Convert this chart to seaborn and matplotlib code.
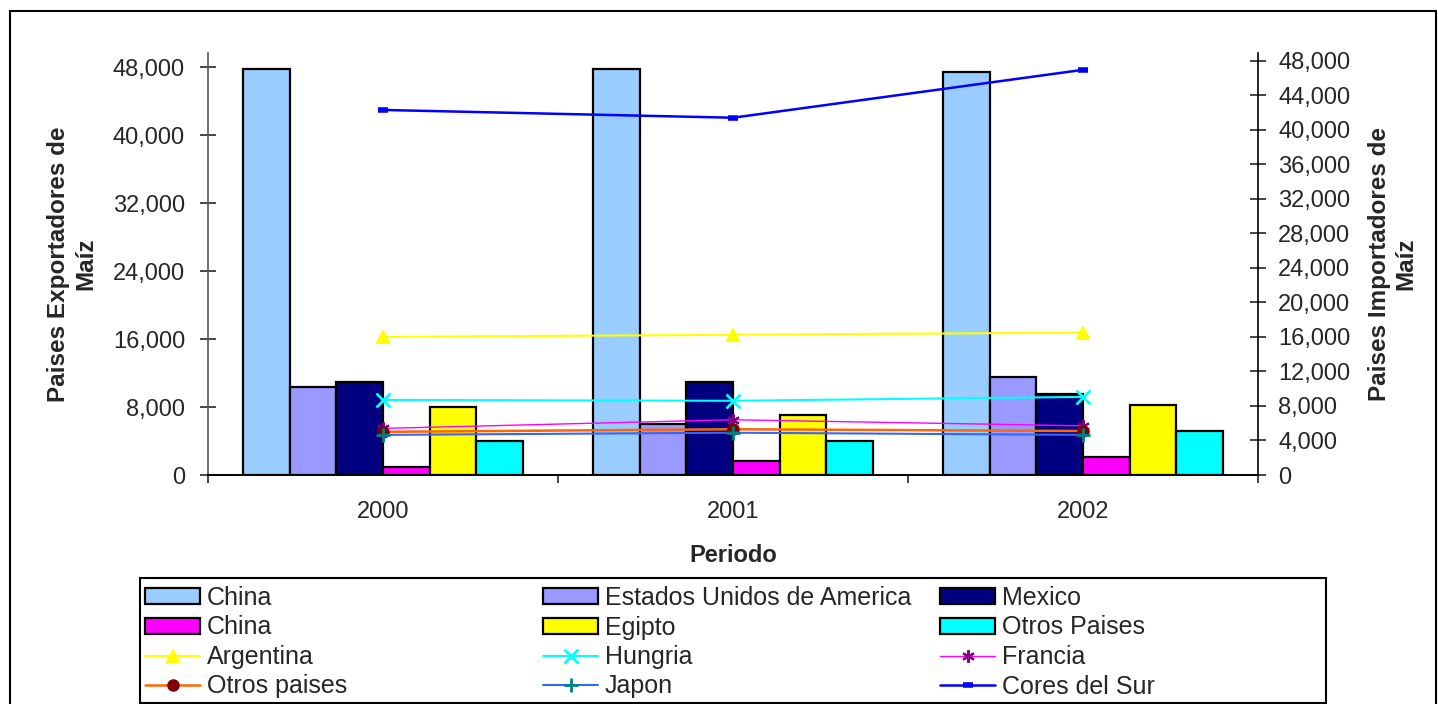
import matplotlib
matplotlib.use('Agg')
import matplotlib.pyplot as plt
import seaborn as sns
import pandas as pd
from matplotlib.ticker import FuncFormatter, FixedLocator, MultipleLocator
from matplotlib.patches import Rectangle

periodos = ['2000', '2001', '2002']

# barras, eje izquierdo (Paises Exportadores)
barras_nombres = ['China', 'Estados Unidos de America', 'Mexico', 'China', 'Egipto', 'Otros Paises']
barras_claves = ['china_a', 'eua', 'mexico', 'china_b', 'egipto', 'otros_a']
china_a = [47800, 47800, 47500]
eua = [10400, 6000, 11600]
mexico = [10900, 10900, 9500]
china_b = [950, 1650, 2100]
egipto = [8000, 7100, 8300]
otros_a = [4000, 4000, 5200]
barras_colores = ['#99CCFF', '#9999FF', '#000080', '#FF00FF', '#FFFF00', '#00FFFF']

# lineas, eje derecho (Paises Importadores)
lineas_nombres = ['Argentina', 'Hungria', 'Francia', 'Otros paises', 'Japon', 'Cores del Sur']
argentina = [16000, 16250, 16500]
hungria = [8700, 8600, 9050]
francia = [5400, 6400, 5700]
otros_b = [5000, 5300, 5100]
japon = [4650, 4900, 4650]
corea = [42300, 41400, 46950]


def tabla_barras():
    valores = [china_a, eua, mexico, china_b, egipto, otros_a]
    filas = []
    for clave, serie in zip(barras_claves, valores):
        for p, v in zip(periodos, serie):
            filas.append({'periodo': p, 'serie': clave, 'valor': v})
    return pd.DataFrame(filas)


sns.set_style('white')
plt.rcParams['font.family'] = ['Liberation Sans', 'DejaVu Sans']

fig = plt.figure(figsize=(14.38, 7.04), dpi=100)
ax = fig.add_axes([208 / 1438, 1 - 475 / 704, 1050 / 1438, 422 / 704])

df = tabla_barras()
sns.barplot(data=df, x='periodo', y='valor', hue='serie', hue_order=barras_claves,
            palette=dict(zip(barras_claves, barras_colores)), saturation=1,
            edgecolor='black', linewidth=1.6, errorbar=None, legend=False, ax=ax)

ax2 = ax.twinx()
estilos = [
    (argentina, '#FFFF00', '^', '#FFFF00', 9, 1.5, 1.5),
    (hungria, '#00FFFF', 'x', '#00FFFF', 10, 2, 1.5),
    (francia, '#FF00FF', (6, 2, 0), '#800080', 9, 1.5, 1.0),
    (otros_b, '#FF6600', 'o', '#800000', 8, 1, 1.8),
    (japon, '#3366FF', '+', '#008080', 10, 2, 1.5),
    (corea, '#0000FF', '_', '#0000FF', 7, 4, 1.8),
]
for nombre, (serie, col, mk, mcol, ms, mew, lw) in zip(lineas_nombres, estilos):
    sns.lineplot(x=periodos, y=serie, color=col, lw=lw, marker=mk, ms=ms,
                 markerfacecolor=mcol, markeredgecolor=mcol, mew=mew,
                 label=nombre, ax=ax2)
if ax2.get_legend() is not None:
    ax2.get_legend().remove()

# ejes
ax.set_xlim(-0.5, len(periodos) - 0.5)
ax.set_ylim(0, 49700)
ax2.set_ylim(0, 48900)
ax.yaxis.set_major_locator(MultipleLocator(8000))
ax2.yaxis.set_major_locator(MultipleLocator(4000))
fmt = FuncFormatter(lambda v, p: f'{v:,.0f}')
ax.yaxis.set_major_formatter(fmt)
ax2.yaxis.set_major_formatter(fmt)

ax.tick_params(axis='y', direction='inout', length=11, width=1.2, pad=11, labelsize=17, left=True)
ax2.tick_params(axis='y', direction='inout', length=11, width=1.2, pad=9, labelsize=17, right=True)
ax.tick_params(axis='x', which='major', length=0, pad=19, labelsize=17)
ax.xaxis.set_minor_locator(FixedLocator([-0.5, 0.5, 1.5, 2.5]))
ax.tick_params(axis='x', which='minor', direction='out', length=6, width=1.2, bottom=True)
ax2.tick_params(axis='x', which='both', length=0)

for a in (ax, ax2):
    a.spines['top'].set_visible(False)
    a.spines['left'].set_color('#555555')
    a.spines['bottom'].set_color('black')
    a.spines['right'].set_color('black')
    for s in a.spines.values():
        s.set_linewidth(1.2)
ax2.spines['left'].set_visible(False)
ax.spines['right'].set_visible(False)

ax.set_xlabel('Periodo', fontsize=17, fontweight='bold')
ax.xaxis.set_label_coords(0.5, -0.163)
ax.xaxis.label.set_va('top')
ax.set_ylabel('Paises Exportadores de\nMaíz', fontsize=17.5, fontweight='bold')
ax.yaxis.set_label_coords((97 - 208) / 1050, 0.5)
ax2.set_ylabel('Paises Importadores de\nMaíz', fontsize=17.5, fontweight='bold')
ax2.yaxis.set_label_coords((1368 - 208) / 1050, 0.5)

# leyenda en tres columnas
h_barras = list(ax.containers)
h_lineas = list(ax2.lines)
columnas = [
    ([h_barras[0], h_barras[3], h_lineas[0], h_lineas[3]],
     [barras_nombres[0], barras_nombres[3], lineas_nombres[0], lineas_nombres[3]], 145),
    ([h_barras[1], h_barras[4], h_lineas[1], h_lineas[4]],
     [barras_nombres[1], barras_nombres[4], lineas_nombres[1], lineas_nombres[4]], 543),
    ([h_barras[2], h_barras[5], h_lineas[2], h_lineas[5]],
     [barras_nombres[2], barras_nombres[5], lineas_nombres[2], lineas_nombres[5]], 940),
]
for handles, labels, x0 in columnas:
    fig.legend(handles, labels, loc='upper left', bbox_to_anchor=(x0 / 1438, 1 - 586 / 704),
               frameon=False, borderpad=0, borderaxespad=0, fontsize=18,
               handlelength=2.2, handleheight=0.6, handletextpad=0.28, labelspacing=0.22)

fig.patches.append(Rectangle((140 / 1438, 1 / 704), (1326 - 140) / 1438, (703 - 578) / 704,
                             transform=fig.transFigure, fill=False, edgecolor='black', lw=1.5))
fig.patches.append(Rectangle((10 / 1438, -0.01), (1436 - 10) / 1438, 1 - 11 / 704 + 0.01,
                             transform=fig.transFigure, fill=False, edgecolor='black', lw=1.5))

fig.savefig('out.png', dpi=100)
